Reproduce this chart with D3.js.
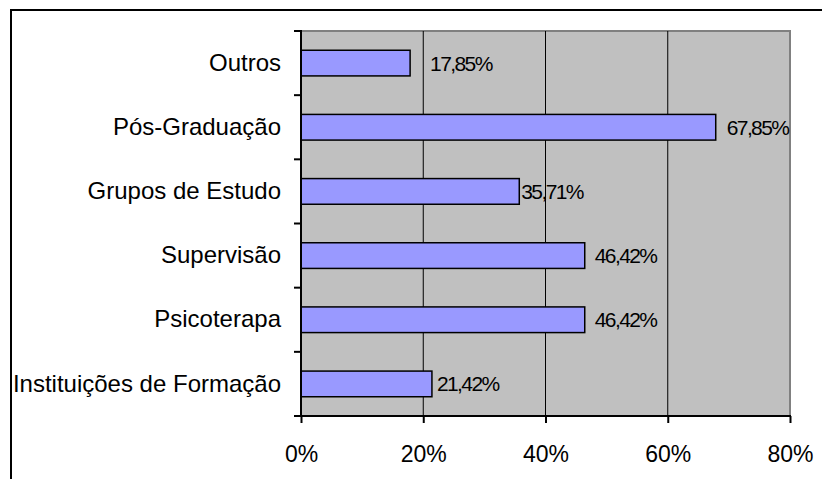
<!DOCTYPE html>
<html>
<head>
<meta charset="utf-8">
<script src="https://cdn.jsdelivr.net/npm/d3@7"></script>
<style>
  body { margin: 0; background: #fff; }
  text { font-family: "Liberation Sans", Arial, sans-serif; fill: #000; }
</style>
</head>
<body>
<div id="chart"></div>
<script>
// data, top to bottom as drawn
const categories = ["Outros", "Pós-Graduação", "Grupos de Estudo", "Supervisão", "Psicoterapa", "Instituições de Formação"];
const values = [17.85, 67.85, 35.71, 46.42, 46.42, 21.42];
const valueLabels = ["17,85%", "67,85%", "35,71%", "46,42%", "46,42%", "21,42%"];
const xTicks = [0, 20, 40, 60, 80];

// label nudges (layout only), the original labels sit unevenly
const labelShift = [20, 11, 2, 10, 10, 5];

const W = 822, H = 479;
const plot = { left: 301, right: 790, top: 31, bottom: 416 };

const svg = d3.select("#chart")
  .append("svg")
  .attr("width", W)
  .attr("height", H);

svg.append("rect").attr("width", W).attr("height", H).attr("fill", "#fff");

// outer chart border (only top and left visible)
svg.append("path")
  .attr("d", `M11,${H} L11,10 L${W},10`)
  .attr("fill", "none")
  .attr("stroke", "#000")
  .attr("stroke-width", 2);

const x = d3.scaleLinear()
  .domain([0, 80])
  .range([plot.left, plot.right]);

const y = d3.scaleBand()
  .domain(categories)
  .range([plot.top, plot.bottom])
  .paddingInner(0.6)
  .paddingOuter(0.3);

// plot background
svg.append("rect")
  .attr("x", plot.left)
  .attr("y", plot.top)
  .attr("width", plot.right - plot.left)
  .attr("height", plot.bottom - plot.top)
  .attr("fill", "#c0c0c0");

// gray frame on top and right
svg.append("path")
  .attr("d", `M${plot.left},${plot.top} L${plot.right},${plot.top} L${plot.right},${plot.bottom}`)
  .attr("fill", "none")
  .attr("stroke", "#808080")
  .attr("stroke-width", 2);

// gridlines
svg.selectAll("line.grid")
  .data(xTicks.filter(d => d > 0 && d < 80))
  .join("line")
  .attr("class", "grid")
  .attr("x1", d => x(d)).attr("x2", d => x(d))
  .attr("y1", plot.top).attr("y2", plot.bottom)
  .attr("stroke", "#000")
  .attr("stroke-width", 1);

// bars
svg.selectAll("rect.bar")
  .data(values)
  .join("rect")
  .attr("class", "bar")
  .attr("x", x(0))
  .attr("y", (d, i) => y(categories[i]))
  .attr("width", d => x(d) - x(0))
  .attr("height", y.bandwidth())
  .attr("fill", "#9999ff")
  .attr("stroke", "#000")
  .attr("stroke-width", 1.5);

// value labels
svg.selectAll("text.val")
  .data(values)
  .join("text")
  .attr("class", "val")
  .attr("x", (d, i) => x(d) + labelShift[i])
  .attr("y", (d, i) => y(categories[i]) + y.bandwidth() / 2)
  .attr("dy", "0.36em")
  .attr("font-size", 21)
  .attr("letter-spacing", -1.6)
  .text((d, i) => valueLabels[i]);

// y axis
const yAxis = svg.append("g")
  .attr("transform", `translate(${plot.left},0)`)
  .call(d3.axisLeft(y).tickSize(0).tickPadding(20));
yAxis.select(".domain").remove();
yAxis.selectAll("text")
  .attr("font-size", 24)
  .attr("font-family", "Liberation Sans, Arial, sans-serif")
  .attr("fill", "#000");

// category boundary ticks on the left
const bounds = d3.range(categories.length + 1).map(i => plot.top + i * y.step());
svg.selectAll("line.ytick")
  .data(bounds)
  .join("line")
  .attr("class", "ytick")
  .attr("x1", plot.left - 7).attr("x2", plot.left)
  .attr("y1", d => Math.min(d, plot.bottom)).attr("y2", d => Math.min(d, plot.bottom))
  .attr("stroke", "#000")
  .attr("stroke-width", 2);

// x axis
const xAxis = svg.append("g")
  .attr("transform", `translate(0,${plot.bottom})`)
  .call(d3.axisBottom(x).tickValues(xTicks).tickSize(7).tickPadding(23).tickFormat(d => d + "%"));
xAxis.select(".domain").remove();
xAxis.selectAll("line").attr("stroke", "#000").attr("stroke-width", 2);
xAxis.selectAll("text")
  .attr("font-size", 23)
  .attr("font-family", "Liberation Sans, Arial, sans-serif")
  .attr("fill", "#000");

// axis lines
svg.append("line")
  .attr("x1", plot.left).attr("x2", plot.left)
  .attr("y1", plot.top - 1).attr("y2", plot.bottom + 1)
  .attr("stroke", "#000").attr("stroke-width", 2);
svg.append("line")
  .attr("x1", plot.left - 1).attr("x2", plot.right + 1)
  .attr("y1", plot.bottom).attr("y2", plot.bottom)
  .attr("stroke", "#000").attr("stroke-width", 2);
</script>
</body>
</html>
